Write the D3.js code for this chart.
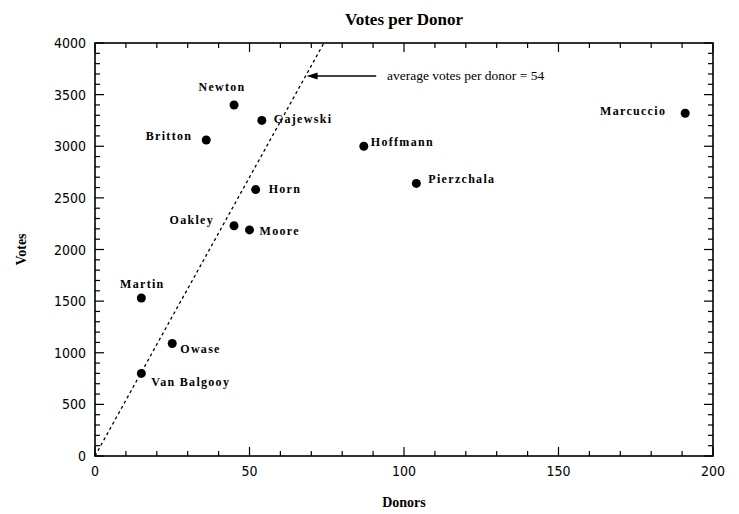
<!DOCTYPE html>
<html>
<head>
<meta charset="utf-8">
<script src="https://cdn.jsdelivr.net/npm/d3@7"></script>
<style>
  body { margin: 0; background: #fff; }
  .tick-label { font-family: "Liberation Sans Narrow", "DejaVu Sans Condensed", "Liberation Sans", sans-serif; font-size: 14px; }
  .pt-label { font-family: "Liberation Serif", serif; font-weight: bold; font-size: 12px; letter-spacing: 1.3px; }
</style>
</head>
<body>
<div id="chart"></div>
<script>
// candidates, donors (x) and votes (y)
var names  = ["Newton", "Gajewski", "Britton", "Hoffmann", "Marcuccio", "Pierzchala", "Horn", "Oakley", "Moore", "Martin", "Owase", "Van Balgooy"];
var donors = [45, 54, 36, 87, 191, 104, 52, 45, 50, 15, 25, 15];
var votes  = [3400, 3250, 3060, 3000, 3320, 2640, 2580, 2230, 2190, 1530, 1090, 800];
var avgVotesPerDonor = 54;
var xTicks = [0, 50, 100, 150, 200];
var yTicks = [0, 500, 1000, 1500, 2000, 2500, 3000, 3500, 4000];

// where each label sits relative to its dot
var labelPos = {
  "Newton":      { dx: -12, dy: -14, anchor: "middle" },
  "Gajewski":    { dx: 12,  dy: 3,   anchor: "start" },
  "Britton":     { dx: -14, dy: 0,   anchor: "end" },
  "Hoffmann":    { dx: 7,   dy: 0,   anchor: "start" },
  "Marcuccio":   { dx: -19, dy: 2,   anchor: "end" },
  "Pierzchala":  { dx: 12,  dy: 0,   anchor: "start" },
  "Horn":        { dx: 13,  dy: 3,   anchor: "start" },
  "Oakley":      { dx: -20, dy: -2,  anchor: "end" },
  "Moore":       { dx: 10,  dy: 5,   anchor: "start" },
  "Martin":      { dx: 1,   dy: -10, anchor: "middle" },
  "Owase":       { dx: 8,   dy: 10,  anchor: "start" },
  "Van Balgooy": { dx: 10,  dy: 13,  anchor: "start" }
};

var width = 739, height = 514;
var margin = { top: 43, right: 26, bottom: 58, left: 95 };
var w = width - margin.left - margin.right;
var h = height - margin.top - margin.bottom;

var svg = d3.select("#chart").append("svg")
  .attr("width", width)
  .attr("height", height);

var g = svg.append("g").attr("transform", "translate(" + margin.left + "," + margin.top + ")");

var x = d3.scaleLinear().domain([0, 200]).range([0, w]);
var y = d3.scaleLinear().domain([0, 4000]).range([h, 0]);

// frame
g.append("rect")
  .attr("width", w).attr("height", h)
  .attr("fill", "none").attr("stroke", "#000").attr("stroke-width", 1.6);

// ticks, inward on all four sides
var xMinor = d3.range(0, 201, 10);
var yMinor = d3.range(0, 4001, 100);
function tlen(v, step) { return v % step == 0 ? 9 : 5; }

xMinor.forEach(function(v) {
  g.append("line").attr("x1", x(v)).attr("x2", x(v)).attr("y1", h).attr("y2", h - tlen(v, 50))
    .attr("stroke", "#000").attr("stroke-width", 1.2);
  g.append("line").attr("x1", x(v)).attr("x2", x(v)).attr("y1", 0).attr("y2", tlen(v, 50))
    .attr("stroke", "#000").attr("stroke-width", 1.2);
});
yMinor.forEach(function(v) {
  g.append("line").attr("y1", y(v)).attr("y2", y(v)).attr("x1", 0).attr("x2", tlen(v, 500))
    .attr("stroke", "#000").attr("stroke-width", 1.2);
  g.append("line").attr("y1", y(v)).attr("y2", y(v)).attr("x1", w).attr("x2", w - tlen(v, 500))
    .attr("stroke", "#000").attr("stroke-width", 1.2);
});

g.selectAll(".xl").data(xTicks).enter().append("text")
  .attr("class", "tick-label")
  .attr("x", function(d) { return x(d); })
  .attr("y", h + 20)
  .attr("text-anchor", "middle")
  .text(function(d) { return d; });

g.selectAll(".yl").data(yTicks).enter().append("text")
  .attr("class", "tick-label")
  .attr("x", -9)
  .attr("y", function(d) { return y(d) + 5; })
  .attr("text-anchor", "end")
  .text(function(d) { return d; });

// average line: votes = 54 * donors
var xEnd = 4000 / avgVotesPerDonor;
g.append("line")
  .attr("x1", x(0)).attr("y1", y(0))
  .attr("x2", x(xEnd)).attr("y2", y(4000))
  .attr("stroke", "#000").attr("stroke-width", 1.3)
  .attr("stroke-dasharray", "3,3");

// arrow to the line
var arrowVotes = 3680;
var tipX = x(arrowVotes / avgVotesPerDonor) + 1, tipY = y(arrowVotes);
g.append("line")
  .attr("x1", x(91)).attr("y1", tipY)
  .attr("x2", tipX + 6).attr("y2", tipY)
  .attr("stroke", "#000").attr("stroke-width", 1.6);
g.append("path")
  .attr("d", "M" + tipX + "," + tipY + " L" + (tipX + 11) + "," + (tipY - 3.5) + " L" + (tipX + 11) + "," + (tipY + 3.5) + " Z")
  .attr("fill", "#000");

g.append("text")
  .attr("x", x(94.5)).attr("y", tipY + 4)
  .style("font-family", "Liberation Serif, serif")
  .style("font-size", "13.5px")
  .text("average votes per donor = " + avgVotesPerDonor);

// points
var pts = names.map(function(n, i) { return { name: n, donors: donors[i], votes: votes[i] }; });

g.selectAll("circle").data(pts).enter().append("circle")
  .attr("cx", function(d) { return x(d.donors); })
  .attr("cy", function(d) { return y(d.votes); })
  .attr("r", 4.5)
  .attr("fill", "#000");

g.selectAll(".pt-label").data(pts).enter().append("text")
  .attr("class", "pt-label")
  .attr("x", function(d) { return x(d.donors) + labelPos[d.name].dx; })
  .attr("y", function(d) { return y(d.votes) + labelPos[d.name].dy; })
  .attr("text-anchor", function(d) { return labelPos[d.name].anchor; })
  .text(function(d) { return d.name; });

// titles
svg.append("text")
  .attr("x", margin.left + w / 2).attr("y", 25)
  .attr("text-anchor", "middle")
  .style("font-family", "Liberation Serif, serif")
  .style("font-weight", "bold")
  .style("font-size", "17px")
  .text("Votes per Donor");

svg.append("text")
  .attr("x", margin.left + w / 2).attr("y", 507)
  .attr("text-anchor", "middle")
  .style("font-family", "Liberation Serif, serif")
  .style("font-weight", "bold")
  .style("font-size", "14px")
  .text("Donors");

svg.append("text")
  .attr("transform", "translate(26," + (margin.top + h / 2) + ") rotate(-90)")
  .attr("text-anchor", "middle")
  .style("font-family", "Liberation Serif, serif")
  .style("font-weight", "bold")
  .style("font-size", "14px")
  .text("Votes");
</script>
</body>
</html>
